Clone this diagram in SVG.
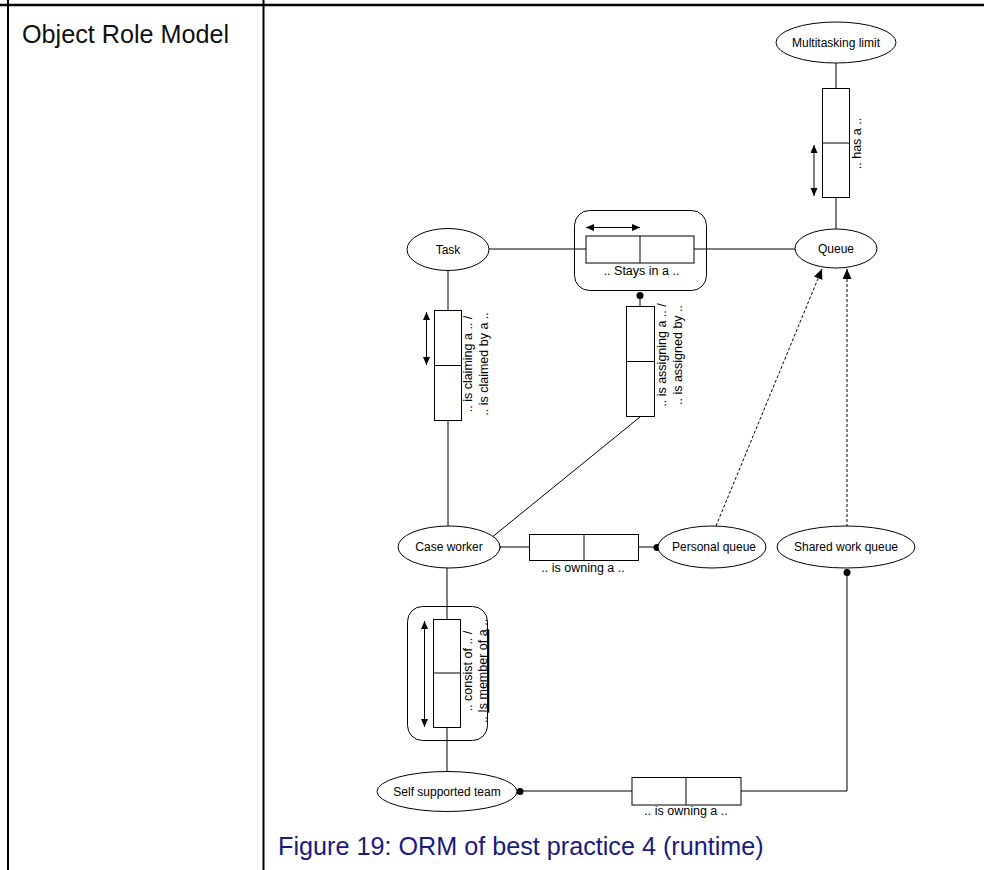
<svg xmlns="http://www.w3.org/2000/svg" width="984" height="870" viewBox="0 0 984 870">
<style>
.e{fill:#fff;stroke:#000;stroke-width:1}
.b{fill:#fff;stroke:#000;stroke-width:1}
.l{stroke:#000;stroke-width:1;fill:none}
.d{stroke:#000;stroke-width:1;fill:none;stroke-dasharray:3,2}
.t{font-family:"Liberation Sans",Arial,Helvetica,sans-serif;font-size:12px;fill:#000}
.lbl{font-family:"Liberation Sans",Arial,Helvetica,sans-serif;font-size:12.5px;fill:#000}
.big{font-family:"Liberation Sans",Arial,Helvetica,sans-serif;font-size:25.2px;fill:#111}
.cap{font-family:"Liberation Sans",Arial,Helvetica,sans-serif;font-size:25.2px;fill:#1a1a80}
</style>
<defs>
<marker id="ah" markerUnits="userSpaceOnUse" markerWidth="8" markerHeight="8" refX="8" refY="3.5" orient="auto-start-reverse"><path d="M0,0 L8,3.5 L0,7 z" fill="#000"/></marker>
<marker id="dh" markerUnits="userSpaceOnUse" markerWidth="10" markerHeight="10" refX="10" refY="4.5" orient="auto"><path d="M0,0 L10,4.5 L0,9 z" fill="#000"/></marker>
</defs>
<rect width="984" height="870" fill="#fff"/>
<g id="table">
<line x1="0" y1="5" x2="984" y2="5" stroke="#000" stroke-width="2.5"/>
<line x1="8" y1="0" x2="8" y2="870" stroke="#000" stroke-width="2"/>
<line x1="263.5" y1="0" x2="263.5" y2="870" stroke="#000" stroke-width="2"/>
<text class="big" x="22" y="43">Object Role Model</text>
</g>
<g id="connectors">
<line class="l" x1="836" y1="63" x2="836" y2="88"/>
<line class="l" x1="836" y1="197" x2="836" y2="229"/>
<line class="l" x1="489" y1="249" x2="586" y2="249"/>
<line class="l" x1="694" y1="249" x2="795" y2="249"/>
<line class="l" x1="640" y1="296" x2="640" y2="306"/>
<line class="l" x1="448" y1="271" x2="448" y2="310"/>
<line class="l" x1="448" y1="420" x2="448" y2="526"/>
<line class="l" x1="640" y1="417" x2="491" y2="538"/>
<line class="l" x1="497" y1="547" x2="529" y2="547"/>
<line class="l" x1="638" y1="547" x2="657" y2="547"/>
<line class="l" x1="447" y1="568" x2="447" y2="619"/>
<line class="l" x1="447" y1="728" x2="447" y2="772"/>
<line class="l" x1="520" y1="791" x2="632" y2="791"/>
<polyline class="l" points="741,791 847,791 847,572"/>
<line class="d" x1="716" y1="526" x2="822" y2="269" marker-end="url(#dh)"/>
<line class="d" x1="847" y1="527" x2="847" y2="269" marker-end="url(#dh)"/>
<circle cx="640" cy="295.5" r="3.5" fill="#000"/>
<circle cx="497" cy="547.5" r="3.5" fill="#000"/>
<circle cx="657" cy="547.5" r="3.5" fill="#000"/>
<circle cx="847" cy="572.5" r="3.5" fill="#000"/>
<circle cx="520" cy="791.5" r="3.5" fill="#000"/>
</g>
<g id="multitasking-limit">
<ellipse class="e" cx="836" cy="42.5" rx="60" ry="20.5"/>
<text class="t" x="836" y="47" text-anchor="middle">Multitasking limit</text>
</g>
<g id="fact-has">
<rect class="b" x="822.5" y="88.5" width="27" height="109"/>
<line class="l" x1="822.5" y1="143" x2="849.5" y2="143"/>
<line class="l" x1="814" y1="145" x2="814" y2="196" marker-start="url(#ah)" marker-end="url(#ah)"/>
<text class="lbl" transform="translate(861,143.5) rotate(-90)" text-anchor="middle">.. has a ..</text>
</g>
<g id="task">
<ellipse class="e" cx="448" cy="249.5" rx="41" ry="21"/>
<text class="t" x="448" y="254" text-anchor="middle">Task</text>
</g>
<g id="queue">
<ellipse class="e" cx="836" cy="248.5" rx="41" ry="19.5"/>
<text class="t" x="836" y="253" text-anchor="middle">Queue</text>
</g>
<g id="fact-stays">
<rect class="l" x="574.5" y="210.5" width="132" height="80" rx="15" ry="15"/>
<rect class="b" x="586" y="236" width="108" height="27"/>
<line class="l" x1="640" y1="236" x2="640" y2="263"/>
<line class="l" x1="586" y1="227.5" x2="640" y2="227.5" marker-start="url(#ah)" marker-end="url(#ah)"/>
<text class="lbl" x="641.5" y="275" text-anchor="middle">.. Stays in a ..</text>
</g>
<g id="fact-claiming">
<rect class="b" x="434.5" y="310.5" width="27" height="110"/>
<line class="l" x1="434.5" y1="365.5" x2="461.5" y2="365.5"/>
<line class="l" x1="426.5" y1="312" x2="426.5" y2="365" marker-start="url(#ah)" marker-end="url(#ah)"/>
<text class="lbl" transform="translate(472,364) rotate(-90)" text-anchor="middle"><tspan x="0" y="0">.. is claiming a .. /</tspan><tspan x="0" y="16">.. is claimed by a ..</tspan></text>
</g>
<g id="fact-assigning">
<rect class="b" x="626.5" y="306.5" width="28" height="110"/>
<line class="l" x1="626.5" y1="361.5" x2="654.5" y2="361.5"/>
<text class="lbl" transform="translate(666,355) rotate(-90)" text-anchor="middle"><tspan x="0" y="0">.. is assigning a .. /</tspan><tspan x="0" y="16">.. is assigned by ..</tspan></text>
</g>
<g id="case-worker">
<ellipse class="e" cx="449" cy="547" rx="51" ry="21"/>
<text class="t" x="449" y="551" text-anchor="middle">Case worker</text>
</g>
<g id="fact-owning-personal">
<rect class="b" x="529.5" y="534.5" width="109" height="26"/>
<line class="l" x1="584" y1="534.5" x2="584" y2="560.5"/>
<text class="lbl" x="583" y="572" text-anchor="middle">.. is owning a  ..</text>
</g>
<g id="personal-queue">
<ellipse class="e" cx="712" cy="547" rx="54" ry="21"/>
<text class="t" x="714" y="551" text-anchor="middle">Personal queue</text>
</g>
<g id="shared-work-queue">
<ellipse class="e" cx="846" cy="547" rx="69" ry="21"/>
<text class="t" x="846" y="551" text-anchor="middle">Shared work queue</text>
</g>
<g id="fact-consist">
<rect class="l" x="407.5" y="606.5" width="80" height="134" rx="15" ry="15"/>
<rect class="b" x="433.5" y="619.5" width="27" height="108"/>
<line class="l" x1="433.5" y1="673" x2="460.5" y2="673"/>
<line class="l" x1="424.5" y1="621" x2="424.5" y2="727" marker-start="url(#ah)" marker-end="url(#ah)"/>
<text class="lbl" transform="translate(472,671) rotate(-90)" text-anchor="middle"><tspan x="0" y="0">.. consist of .. /</tspan><tspan x="0" y="15">.. <tspan text-decoration="underline">Is member of a</tspan> ..</tspan></text>
</g>
<g id="self-supported-team">
<ellipse class="e" cx="447" cy="791.5" rx="70" ry="20"/>
<text class="t" x="447" y="796" text-anchor="middle">Self supported team</text>
</g>
<g id="fact-owning-shared">
<rect class="b" x="632" y="777.5" width="109" height="27.5"/>
<line class="l" x1="686" y1="777.5" x2="686" y2="805"/>
<text class="lbl" x="686" y="815" text-anchor="middle">.. is owning a ..</text>
</g>
<text class="cap" x="278" y="855">Figure 19: ORM of best practice 4 (runtime)</text>
</svg>
